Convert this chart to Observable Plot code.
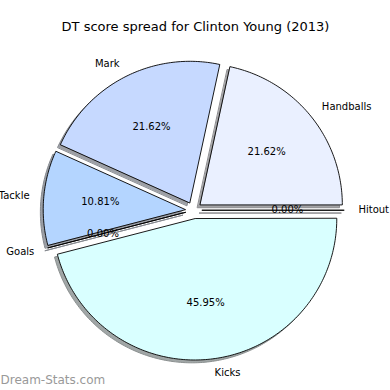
<!DOCTYPE html>
<html><head><meta charset="utf-8">
<script src="https://cdn.jsdelivr.net/npm/d3@7"></script>
<script src="https://cdn.jsdelivr.net/npm/@observablehq/plot@0.6"></script>
<style>body{margin:0;background:#fff} svg{display:block}</style>
</head><body><div id="chart"></div>
<script>
// Data (slices in drawing order, counter-clockwise from 3 o'clock)
const categories = ["Handballs", "Mark", "Tackle", "Goals", "Kicks", "Hitout"];
const shares = [21.62, 21.62, 10.81, 0, 45.95, 0];
const sliceColors = ["#eaf0ff", "#c6d9ff", "#b4d5ff", "#b4d5ff", "#d9ffff", "#eaf0ff"];
const chartTitle = "DT score spread for Clinton Young (2013)";
const watermark = "Dream-Stats.com";
const explodeFrac = 0.06;
const labelDistance = 1.1;
const pctDistance = 0.6;

const total = d3.sum(shares);
let acc = 0;
const slices = categories.map((name, i) => {
  const t1 = acc / total * 360; acc += shares[i]; const t2 = acc / total * 360;
  const tm = (t1 + t2) / 2 * Math.PI / 180;
  const cx = explodeFrac * Math.cos(tm), cy = explodeFrac * Math.sin(tm);
  return {name, share: shares[i], color: sliceColors[i], t1, t2, tm, cx, cy,
    lx: cx + labelDistance * Math.cos(tm), ly: cy + labelDistance * Math.sin(tm),
    px: cx + pctDistance * Math.cos(tm), py: cy + pctDistance * Math.sin(tm)};
});

function wedgePoints(s, dx = 0, dy = 0) {
  const pts = [{x: s.cx + dx, y: s.cy + dy}];
  const n = Math.max(1, Math.ceil(s.t2 - s.t1));
  for (let k = 0; k <= n; k++) {
    const a = (s.t1 + (s.t2 - s.t1) * k / n) * Math.PI / 180;
    pts.push({x: s.cx + dx + Math.cos(a), y: s.cy + dy + Math.sin(a)});
  }
  return pts;
}
function shade(hex) {
  const c = d3.rgb(hex);
  const f = v => Math.round(255 * (0.5 + 0.5 * 0.3 * v / 255));
  return d3.rgb(f(c.r), f(c.g), f(c.b)).formatHex();
}

const marks = [];
slices.forEach(s => {
  const sc = shade(s.color);
  marks.push(Plot.line(wedgePoints(s, -0.02, -0.02), {x: "x", y: "y", curve: "linear-closed", fill: sc, stroke: d3.rgb(sc).darker(0.4).formatHex(), strokeWidth: 1}));
});
slices.forEach(s => {
  marks.push(Plot.line(wedgePoints(s), {x: "x", y: "y", curve: "linear-closed", fill: s.color, stroke: "#000", strokeWidth: 0.9}));
});
const font = "DejaVu Sans";
marks.push(Plot.text(slices.filter(d => d.lx > 0), {x: "lx", y: "ly", text: "name", textAnchor: "start", fontSize: 10, fontFamily: font, fill: "#000"}));
marks.push(Plot.text(slices.filter(d => d.lx <= 0), {x: "lx", y: "ly", text: "name", textAnchor: "end", fontSize: 10, fontFamily: font, fill: "#000"}));
marks.push(Plot.text(slices, {x: "px", y: "py", text: d => d.share.toFixed(2) + "%", textAnchor: "middle", fontSize: 10, fontFamily: font, fill: "#000"}));
marks.push(Plot.text([chartTitle], {frameAnchor: "top", text: d => d, dy: 26, lineAnchor: "middle", fontSize: 13, fontFamily: font, fill: "#000"}));
marks.push(Plot.text([watermark], {frameAnchor: "bottom-left", text: d => d, dx: 0, dy: -10, lineAnchor: "middle", textAnchor: "start", fontSize: 12, fontFamily: font, fill: "#999999", fontWeight: "normal"}));

const chart = Plot.plot({
  width: 390, height: 390, margin: 0,
  x: {domain: [-1.3606, 1.3859], axis: null},
  y: {domain: [-1.2754, 1.4838], axis: null},
  style: {background: "#fff", fontFamily: font},
  marks
});
document.getElementById("chart").appendChild(chart);
</script>
</body></html>
